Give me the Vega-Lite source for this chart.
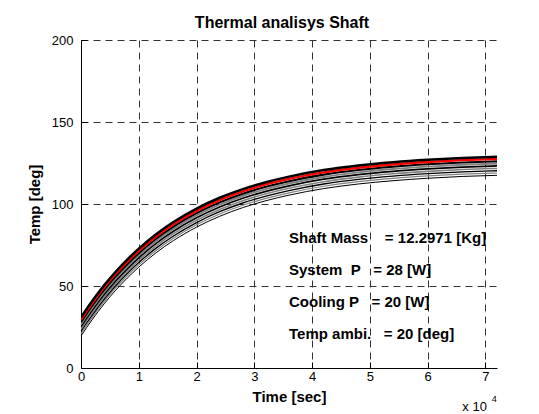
{
  "$schema": "https://vega.github.io/schema/vega-lite/v6.json",
  "width": 416,
  "height": 328,
  "autosize": {"type": "none"},
  "padding": {"left": 81, "top": 40, "right": 42, "bottom": 46},
  "background": "white",
  "title": {"text": "Thermal analisys Shaft", "font": "Liberation Sans", "fontSize": 16, "fontWeight": "bold", "color": "black", "anchor": "middle", "offset": 3, "dx": -7},
  "config": {
    "view": {"stroke": null},
    "axis": {
      "grid": true, "gridDash": [7, 5], "gridColor": "#333333", "gridOpacity": 1, "gridWidth": 1,
      "domainColor": "black", "domainWidth": 1, "tickColor": "black", "tickSize": -6, "tickWidth": 1,
      "labelFont": "Liberation Sans", "labelFontSize": 13, "labelColor": "black",
      "titleFont": "Liberation Sans", "titleFontSize": 15, "titleFontWeight": "bold", "titleColor": "black"
    }
  },
  "datasets": {
    "curves": [
      {"t": 0, "c0": 30.8, "c1": 29.4, "c2": 28.0, "c3": 26.6, "c4": 25.2, "c5": 23.7, "c6": 22.3, "c7": 20.9, "c8": 19.5},
      {"t": 1000, "c0": 36.1, "c1": 34.7, "c2": 33.3, "c3": 31.9, "c4": 30.5, "c5": 29.0, "c6": 27.6, "c7": 26.2, "c8": 24.8},
      {"t": 2000, "c0": 41.1, "c1": 39.7, "c2": 38.3, "c3": 36.9, "c4": 35.5, "c5": 34.0, "c6": 32.6, "c7": 31.2, "c8": 29.8},
      {"t": 4000, "c0": 50.4, "c1": 49.0, "c2": 47.6, "c3": 46.2, "c4": 44.8, "c5": 43.3, "c6": 41.9, "c7": 40.5, "c8": 39.1},
      {"t": 6000, "c0": 58.7, "c1": 57.3, "c2": 55.9, "c3": 54.5, "c4": 53.1, "c5": 51.6, "c6": 50.2, "c7": 48.8, "c8": 47.4},
      {"t": 8000, "c0": 66.1, "c1": 64.7, "c2": 63.3, "c3": 61.9, "c4": 60.5, "c5": 59.0, "c6": 57.6, "c7": 56.2, "c8": 54.8},
      {"t": 10000, "c0": 72.8, "c1": 71.4, "c2": 70.0, "c3": 68.6, "c4": 67.2, "c5": 65.7, "c6": 64.3, "c7": 62.9, "c8": 61.5},
      {"t": 13000, "c0": 81.6, "c1": 80.2, "c2": 78.8, "c3": 77.4, "c4": 76.0, "c5": 74.5, "c6": 73.1, "c7": 71.7, "c8": 70.3},
      {"t": 16000, "c0": 89.0, "c1": 87.6, "c2": 86.2, "c3": 84.8, "c4": 83.4, "c5": 81.9, "c6": 80.5, "c7": 79.1, "c8": 77.7},
      {"t": 20000, "c0": 97.2, "c1": 95.8, "c2": 94.4, "c3": 93.0, "c4": 91.6, "c5": 90.1, "c6": 88.7, "c7": 87.3, "c8": 85.9},
      {"t": 24000, "c0": 103.8, "c1": 102.4, "c2": 101.0, "c3": 99.6, "c4": 98.2, "c5": 96.7, "c6": 95.3, "c7": 93.9, "c8": 92.5},
      {"t": 28000, "c0": 109.1, "c1": 107.7, "c2": 106.3, "c3": 104.9, "c4": 103.5, "c5": 102.0, "c6": 100.6, "c7": 99.2, "c8": 97.8},
      {"t": 32000, "c0": 113.3, "c1": 111.9, "c2": 110.5, "c3": 109.1, "c4": 107.7, "c5": 106.2, "c6": 104.8, "c7": 103.4, "c8": 102.0},
      {"t": 36000, "c0": 116.7, "c1": 115.3, "c2": 113.9, "c3": 112.5, "c4": 111.1, "c5": 109.6, "c6": 108.2, "c7": 106.8, "c8": 105.4},
      {"t": 42000, "c0": 120.7, "c1": 119.3, "c2": 117.9, "c3": 116.5, "c4": 115.1, "c5": 113.6, "c6": 112.2, "c7": 110.8, "c8": 109.4},
      {"t": 48000, "c0": 123.5, "c1": 122.1, "c2": 120.7, "c3": 119.3, "c4": 117.9, "c5": 116.4, "c6": 115.0, "c7": 113.6, "c8": 112.2},
      {"t": 54000, "c0": 125.5, "c1": 124.1, "c2": 122.7, "c3": 121.3, "c4": 119.9, "c5": 118.4, "c6": 117.0, "c7": 115.6, "c8": 114.2},
      {"t": 60000, "c0": 127.0, "c1": 125.6, "c2": 124.2, "c3": 122.8, "c4": 121.4, "c5": 119.9, "c6": 118.5, "c7": 117.1, "c8": 115.7},
      {"t": 66000, "c0": 128.1, "c1": 126.7, "c2": 125.3, "c3": 123.9, "c4": 122.5, "c5": 121.0, "c6": 119.6, "c7": 118.2, "c8": 116.8},
      {"t": 72000, "c0": 128.8, "c1": 127.4, "c2": 126.0, "c3": 124.6, "c4": 123.2, "c5": 121.7, "c6": 120.3, "c7": 118.9, "c8": 117.5}
    ],
    "notes": [
      {"t": 36000, "T": 76.5, "label": "Shaft Mass\u00a0\u00a0\u00a0\u00a0= 12.2971 [Kg]"},
      {"t": 36000, "T": 56.5, "label": "System\u00a0\u00a0P\u00a0\u00a0\u00a0= 28 [W]"},
      {"t": 36000, "T": 37, "label": "Cooling P\u00a0\u00a0\u00a0= 20 [W]"},
      {"t": 36000, "T": 17.5, "label": "Temp ambi.\u00a0\u00a0\u00a0= 20 [deg]"}
    ],
    "mult": [{"t": 66000, "T": -26, "label": "x 10"}],
    "expo": [{"t": 71100, "T": -20.5, "label": "4"}]
  },
  "encoding": {
    "x": {
      "field": "t", "type": "quantitative",
      "scale": {"domain": [0, 72000], "nice": false, "zero": false},
      "axis": {"values": [0, 10000, 20000, 30000, 40000, 50000, 60000, 70000], "labelExpr": "datum.value / 10000", "title": "Time [sec]", "labelPadding": 8, "titlePadding": 6, "labelFlush": false}
    },
    "y": {
      "field": "T", "type": "quantitative",
      "scale": {"domain": [0, 200], "nice": false, "zero": false},
      "axis": {"values": [0, 50, 100, 150, 200], "title": "Temp [deg]", "labelPadding": 14, "titlePadding": 9, "labelFlush": false}
    }
  },
  "layer": [
    {
      "data": {"name": "curves"},
      "transform": [{"fold": ["c8", "c7", "c6", "c5", "c4", "c3", "c2", "c1", "c0"], "as": ["curve", "T"]}],
      "mark": {"type": "line", "interpolate": "monotone", "clip": true},
      "encoding": {
        "color": {"field": "curve", "type": "nominal", "legend": null,
          "scale": {"domain": ["c0", "c1", "c2", "c3", "c4", "c5", "c6", "c7", "c8"], "range": ["#000000", "#ff0000", "#000000", "#808080", "#000000", "#808080", "#000000", "#808080", "#000000"]}},
        "strokeWidth": {"field": "curve", "type": "ordinal", "legend": null,
          "scale": {"domain": ["c0", "c1", "c2", "c3", "c4", "c5", "c6", "c7", "c8"], "range": [2.5, 1, 0.8, 0.8, 0.8, 0.8, 0.8, 0.8, 0.8]}}
      }
    },
    {
      "data": {"name": "notes"},
      "mark": {"type": "text", "align": "left", "baseline": "alphabetic", "font": "Liberation Sans", "fontSize": 15, "fontWeight": "bold", "color": "black"},
      "encoding": {"text": {"field": "label", "type": "nominal"}}
    },
    {
      "data": {"name": "mult"},
      "mark": {"type": "text", "align": "left", "baseline": "alphabetic", "font": "Liberation Sans", "fontSize": 13, "color": "black"},
      "encoding": {"text": {"field": "label", "type": "nominal"}}
    },
    {
      "data": {"name": "expo"},
      "mark": {"type": "text", "align": "left", "baseline": "alphabetic", "font": "Liberation Sans", "fontSize": 9, "color": "black"},
      "encoding": {"text": {"field": "label", "type": "nominal"}}
    }
  ]
}
